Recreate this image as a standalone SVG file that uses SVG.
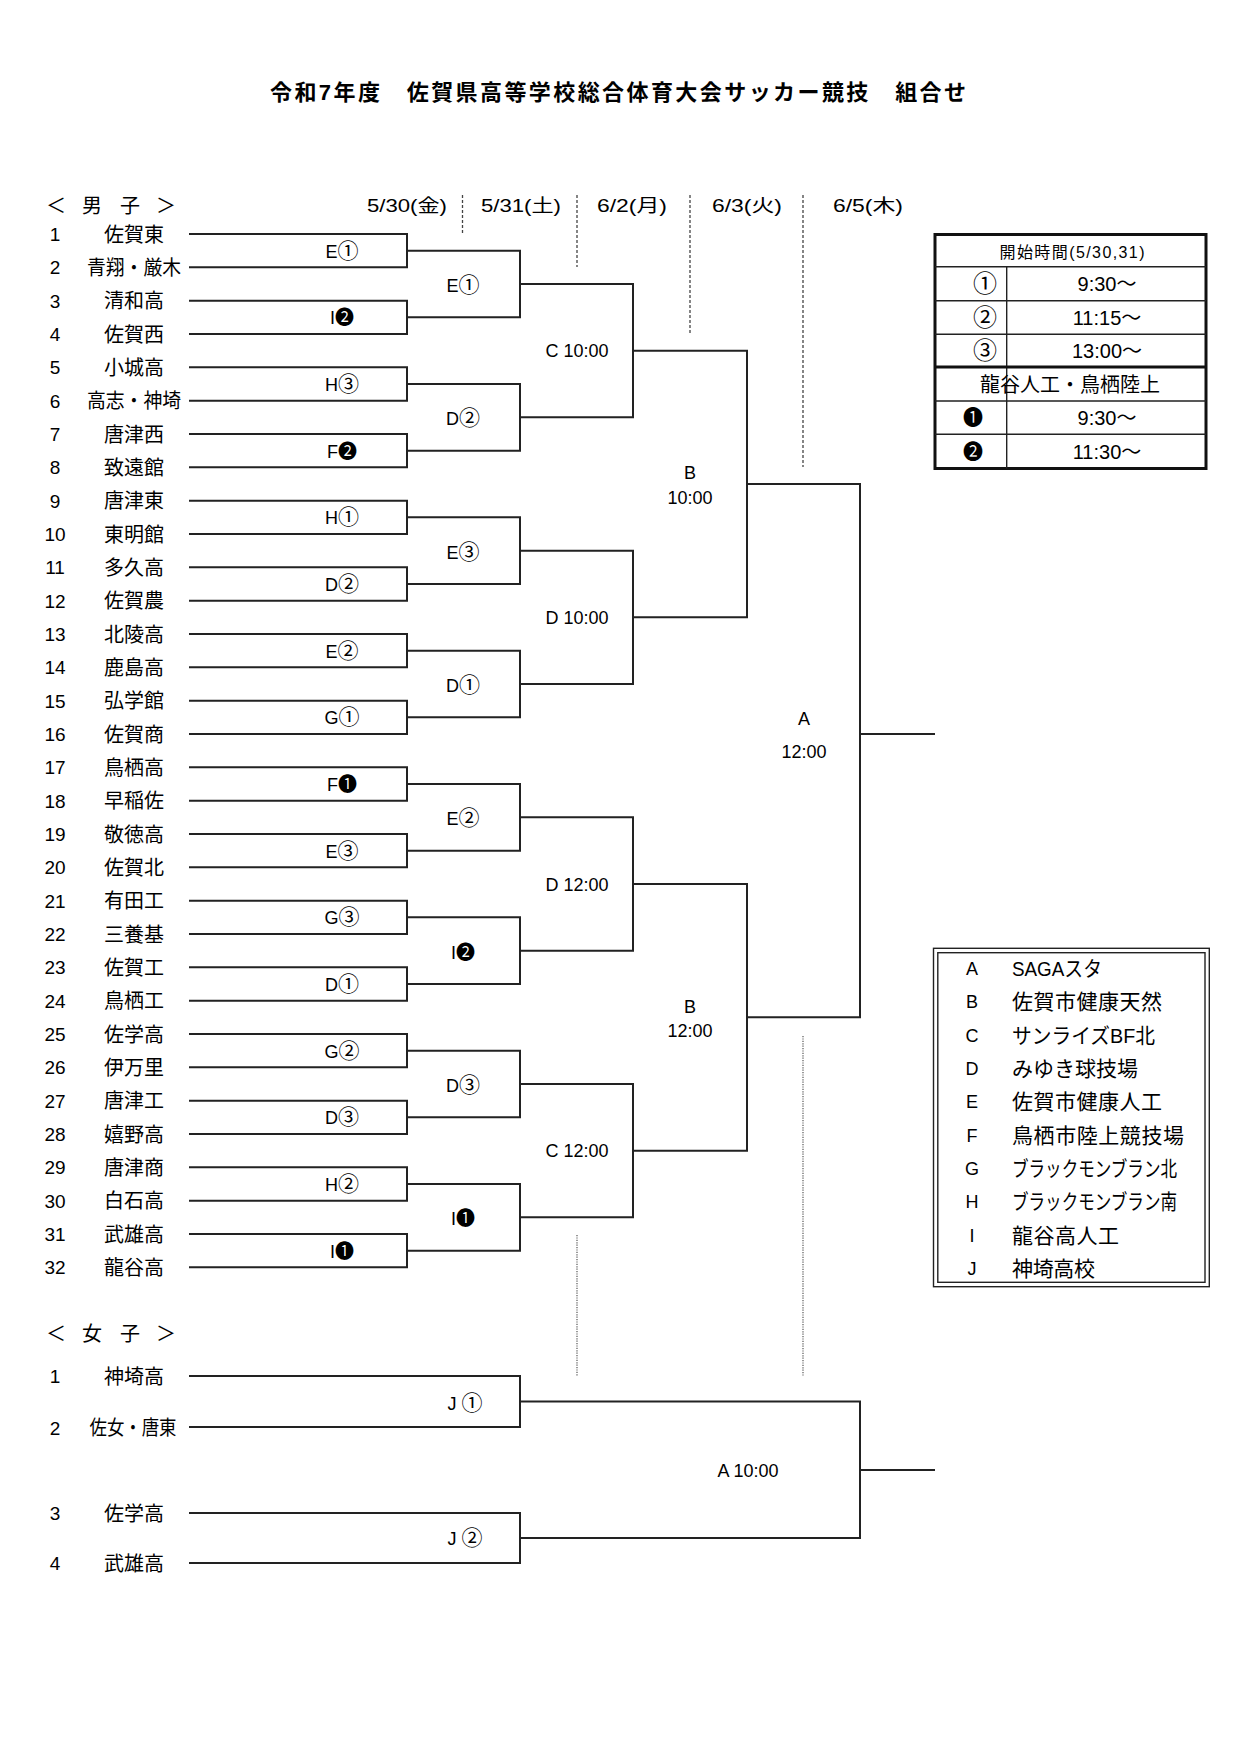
<svg xmlns="http://www.w3.org/2000/svg" width="1240" height="1754" viewBox="0 0 1240 1754">
<style>
text{font-family:"Liberation Sans","Noto Sans CJK JP",sans-serif;fill:#000}
.title{font-size:22px;font-weight:bold}
.hd{font-size:20px;text-anchor:middle}
.num{font-size:19px;text-anchor:middle}
.nm{font-size:20px;text-anchor:middle}
.lb{font-size:18px;text-anchor:middle}
.dt{font-size:18px;text-anchor:middle}
.tb{font-size:20px;text-anchor:middle}
.tbs{font-size:16px;text-anchor:middle}
.lgl{font-size:18px;text-anchor:middle}
.lgn{font-size:21px}
.c{font-size:21px}
.cb{font-size:19px}
.tc{font-size:24px}
.br{fill:none;stroke:#222;stroke-width:2}
.dash{fill:none;stroke:#444;stroke-width:1.3;stroke-dasharray:3 2}
.dot{fill:none;stroke:#555;stroke-width:1.2;stroke-dasharray:1.2 1.2}
.thick{fill:none;stroke:#111;stroke-width:3}
.thin{fill:none;stroke:#222;stroke-width:1.4}
</style>

<g id="title"><text class="title" x="270" y="100" textLength="696" lengthAdjust="spacing">令和7年度　佐賀県高等学校総合体育大会サッカー競技　組合せ</text></g>

<g id="dates">
<text class="hd" x="56 92 130 166" y="213">＜男子＞</text>
<text class="dt" x="407" y="212" textLength="80" lengthAdjust="spacingAndGlyphs">5/30(金)</text>
<text class="dt" x="521" y="212" textLength="80" lengthAdjust="spacingAndGlyphs">5/31(土)</text>
<text class="dt" x="632" y="212" textLength="70" lengthAdjust="spacingAndGlyphs">6/2(月)</text>
<text class="dt" x="747" y="212" textLength="70" lengthAdjust="spacingAndGlyphs">6/3(火)</text>
<text class="dt" x="868" y="212" textLength="70" lengthAdjust="spacingAndGlyphs">6/5(木)</text>
</g>

<g id="day-dividers">
<path class="dash" d="M462.5,195V234M577,195V267M690,195V334M803,195V467"/>
<path class="dot" d="M577,1235V1376M803,1036V1376"/>
</g>

<g id="connectors">
<path class="br" d="M189,234H407V267.3H189M189,300.7H407V334H189M189,367.3H407V400.7H189M189,434H407V467.3H189M189,500.7H407V534H189M189,567.3H407V600.7H189M189,634H407V667.3H189M189,700.7H407V734H189M189,767.3H407V800.7H189M189,834H407V867.3H189M189,900.7H407V934H189M189,967.3H407V1000.7H189M189,1034H407V1067.3H189M189,1100.7H407V1134H189M189,1167.3H407V1200.7H189M189,1234H407V1267.3H189"/>
<path class="br" d="M407,250.7H520V317.3H407M407,384H520V450.7H407M407,517.3H520V584H407M407,650.7H520V717.3H407M407,784H520V850.7H407M407,917.3H520V984H407M407,1050.7H520V1117.3H407M407,1184H520V1250.7H407"/>
<path class="br" d="M520,284H633V417.3H520M520,550.7H633V684H520M520,817.3H633V950.7H520M520,1084H633V1217.3H520"/>
<path class="br" d="M633,350.7H747V617.3H633M633,884H747V1150.7H633"/>
<path class="br" d="M747,484H860V1017.3H747M860,734H935"/>
<path class="br" d="M189,1376H520V1427H189M189,1513H520V1563H189M520,1401.5H860V1538H520M860,1470H935"/>
</g>

<g id="boys-teams">
<g id="t1"><text class="num" x="55" y="241">1</text><text class="nm" x="134" y="241.5">佐賀東</text></g>
<g id="t2"><text class="num" x="55" y="274.3">2</text><text class="nm" x="134" y="274.8" textLength="94" lengthAdjust="spacingAndGlyphs">青翔・厳木</text></g>
<g id="t3"><text class="num" x="55" y="307.7">3</text><text class="nm" x="134" y="308.2">清和高</text></g>
<g id="t4"><text class="num" x="55" y="341">4</text><text class="nm" x="134" y="341.5">佐賀西</text></g>
<g id="t5"><text class="num" x="55" y="374.3">5</text><text class="nm" x="134" y="374.8">小城高</text></g>
<g id="t6"><text class="num" x="55" y="407.7">6</text><text class="nm" x="134" y="408.2" textLength="94" lengthAdjust="spacingAndGlyphs">高志・神埼</text></g>
<g id="t7"><text class="num" x="55" y="441">7</text><text class="nm" x="134" y="441.5">唐津西</text></g>
<g id="t8"><text class="num" x="55" y="474.3">8</text><text class="nm" x="134" y="474.8">致遠館</text></g>
<g id="t9"><text class="num" x="55" y="507.7">9</text><text class="nm" x="134" y="508.2">唐津東</text></g>
<g id="t10"><text class="num" x="55" y="541">10</text><text class="nm" x="134" y="541.5">東明館</text></g>
<g id="t11"><text class="num" x="55" y="574.3">11</text><text class="nm" x="134" y="574.8">多久高</text></g>
<g id="t12"><text class="num" x="55" y="607.7">12</text><text class="nm" x="134" y="608.2">佐賀農</text></g>
<g id="t13"><text class="num" x="55" y="641">13</text><text class="nm" x="134" y="641.5">北陵高</text></g>
<g id="t14"><text class="num" x="55" y="674.3">14</text><text class="nm" x="134" y="674.8">鹿島高</text></g>
<g id="t15"><text class="num" x="55" y="707.7">15</text><text class="nm" x="134" y="708.2">弘学館</text></g>
<g id="t16"><text class="num" x="55" y="741">16</text><text class="nm" x="134" y="741.5">佐賀商</text></g>
<g id="t17"><text class="num" x="55" y="774.3">17</text><text class="nm" x="134" y="774.8">鳥栖高</text></g>
<g id="t18"><text class="num" x="55" y="807.7">18</text><text class="nm" x="134" y="808.2">早稲佐</text></g>
<g id="t19"><text class="num" x="55" y="841">19</text><text class="nm" x="134" y="841.5">敬徳高</text></g>
<g id="t20"><text class="num" x="55" y="874.3">20</text><text class="nm" x="134" y="874.8">佐賀北</text></g>
<g id="t21"><text class="num" x="55" y="907.7">21</text><text class="nm" x="134" y="908.2">有田工</text></g>
<g id="t22"><text class="num" x="55" y="941">22</text><text class="nm" x="134" y="941.5">三養基</text></g>
<g id="t23"><text class="num" x="55" y="974.3">23</text><text class="nm" x="134" y="974.8">佐賀工</text></g>
<g id="t24"><text class="num" x="55" y="1007.7">24</text><text class="nm" x="134" y="1008.2">鳥栖工</text></g>
<g id="t25"><text class="num" x="55" y="1041">25</text><text class="nm" x="134" y="1041.5">佐学高</text></g>
<g id="t26"><text class="num" x="55" y="1074.3">26</text><text class="nm" x="134" y="1074.8">伊万里</text></g>
<g id="t27"><text class="num" x="55" y="1107.7">27</text><text class="nm" x="134" y="1108.2">唐津工</text></g>
<g id="t28"><text class="num" x="55" y="1141">28</text><text class="nm" x="134" y="1141.5">嬉野高</text></g>
<g id="t29"><text class="num" x="55" y="1174.3">29</text><text class="nm" x="134" y="1174.8">唐津商</text></g>
<g id="t30"><text class="num" x="55" y="1207.7">30</text><text class="nm" x="134" y="1208.2">白石高</text></g>
<g id="t31"><text class="num" x="55" y="1241">31</text><text class="nm" x="134" y="1241.5">武雄高</text></g>
<g id="t32"><text class="num" x="55" y="1274.3">32</text><text class="nm" x="134" y="1274.8">龍谷高</text></g>
</g>

<g id="boys-matches">
<text class="lb" x="342" y="257.7">E<tspan class="c">①</tspan></text>
<text class="lb" x="342" y="324.3">I<tspan class="cb">❷</tspan></text>
<text class="lb" x="342" y="391">H<tspan class="c">③</tspan></text>
<text class="lb" x="342" y="457.7">F<tspan class="cb">❷</tspan></text>
<text class="lb" x="342" y="524.3">H<tspan class="c">①</tspan></text>
<text class="lb" x="342" y="591">D<tspan class="c">②</tspan></text>
<text class="lb" x="342" y="657.7">E<tspan class="c">②</tspan></text>
<text class="lb" x="342" y="724.3">G<tspan class="c">①</tspan></text>
<text class="lb" x="342" y="791">F<tspan class="cb">❶</tspan></text>
<text class="lb" x="342" y="857.7">E<tspan class="c">③</tspan></text>
<text class="lb" x="342" y="924.3">G<tspan class="c">③</tspan></text>
<text class="lb" x="342" y="991">D<tspan class="c">①</tspan></text>
<text class="lb" x="342" y="1057.7">G<tspan class="c">②</tspan></text>
<text class="lb" x="342" y="1124.3">D<tspan class="c">③</tspan></text>
<text class="lb" x="342" y="1191">H<tspan class="c">②</tspan></text>
<text class="lb" x="342" y="1257.7">I<tspan class="cb">❶</tspan></text>
<text class="lb" x="463" y="292">E<tspan class="c">①</tspan></text>
<text class="lb" x="463" y="425.3">D<tspan class="c">②</tspan></text>
<text class="lb" x="463" y="558.7">E<tspan class="c">③</tspan></text>
<text class="lb" x="463" y="692">D<tspan class="c">①</tspan></text>
<text class="lb" x="463" y="825.3">E<tspan class="c">②</tspan></text>
<text class="lb" x="463" y="958.7">I<tspan class="cb">❷</tspan></text>
<text class="lb" x="463" y="1092">D<tspan class="c">③</tspan></text>
<text class="lb" x="463" y="1225.3">I<tspan class="cb">❶</tspan></text>
<text class="lb" x="577" y="357.2">C 10:00</text>
<text class="lb" x="577" y="623.8">D 10:00</text>
<text class="lb" x="577" y="890.5">D 12:00</text>
<text class="lb" x="577" y="1157.2">C 12:00</text>
<text class="lb" x="690" y="479">B</text>
<text class="lb" x="690" y="503.5">10:00</text>
<text class="lb" x="690" y="1012.5">B</text>
<text class="lb" x="690" y="1037">12:00</text>
<text class="lb" x="804" y="725.3">A</text>
<text class="lb" x="804" y="758">12:00</text>
</g>

<g id="girls">
<text class="hd" x="56 92 130 166" y="1340.5">＜女子＞</text>
<g id="g1"><text class="num" x="55" y="1383">1</text><text class="nm" x="134" y="1383.5">神埼高</text></g>
<g id="g2"><text class="num" x="55" y="1435">2</text><text class="nm" x="133" y="1434.5" textLength="87" lengthAdjust="spacingAndGlyphs">佐女・唐東</text></g>
<g id="g3"><text class="num" x="55" y="1520">3</text><text class="nm" x="134" y="1520.5">佐学高</text></g>
<g id="g4"><text class="num" x="55" y="1570">4</text><text class="nm" x="134" y="1570.5">武雄高</text></g>
<text class="lb" x="465" y="1410">J <tspan class="c">①</tspan></text>
<text class="lb" x="465" y="1544.5">J <tspan class="c">②</tspan></text>
<text class="lb" x="748" y="1477">A 10:00</text>
</g>

<g id="start-times">
<rect class="thick" x="935" y="234.5" width="271" height="234"/>
<path class="thin" d="M935,266.7H1206M935,300.7H1206M935,334.3H1206M935,401H1206M935,434.3H1206M1006.7,266.7V367M1006.7,367V468.5"/>
<path class="thick" d="M935,367H1206"/>
<text class="tbs" x="1072" y="257.5" textLength="145" lengthAdjust="spacing">開始時間(5/30,31)</text>
<text class="tc" x="973" y="292">①</text><text class="tb" x="1107" y="290.7">9:30～</text>
<text class="tc" x="973" y="325.8">②</text><text class="tb" x="1107" y="324.5">11:15～</text>
<text class="tc" x="973" y="358.8">③</text><text class="tb" x="1107" y="357.5">13:00～</text>
<text class="tb" x="1070" y="391.5">龍谷人工・鳥栖陸上</text>
<text class="tb" x="973" y="424.5">❶</text><text class="tb" x="1107" y="424.7">9:30～</text>
<text class="tb" x="973" y="458.5">❷</text><text class="tb" x="1107" y="458.7">11:30～</text>
</g>

<g id="venues">
<rect class="thin" x="933.5" y="948.3" width="275.8" height="338.4"/>
<rect class="thin" x="937.8" y="952.7" width="267.2" height="329.6"/>
<text class="lgl" x="972" y="974.8">A</text><text class="lgn" x="1012" y="975.8" textLength="90" lengthAdjust="spacingAndGlyphs">SAGAスタ</text>
<text class="lgl" x="972" y="1008.2">B</text><text class="lgn" x="1012" y="1009.2" textLength="150" lengthAdjust="spacing">佐賀市健康天然</text>
<text class="lgl" x="972" y="1041.5">C</text><text class="lgn" x="1012" y="1042.5" textLength="143" lengthAdjust="spacingAndGlyphs">サンライズBF北</text>
<text class="lgl" x="972" y="1074.8">D</text><text class="lgn" x="1012" y="1075.8" textLength="126" lengthAdjust="spacing">みゆき球技場</text>
<text class="lgl" x="972" y="1108.2">E</text><text class="lgn" x="1012" y="1109.2" textLength="150" lengthAdjust="spacing">佐賀市健康人工</text>
<text class="lgl" x="972" y="1141.5">F</text><text class="lgn" x="1012" y="1142.5" textLength="172" lengthAdjust="spacing">鳥栖市陸上競技場</text>
<text class="lgl" x="972" y="1174.8">G</text><text class="lgn" x="1012" y="1175.8" textLength="165" lengthAdjust="spacingAndGlyphs">ブラックモンブラン北</text>
<text class="lgl" x="972" y="1208.2">H</text><text class="lgn" x="1012" y="1209.2" textLength="165" lengthAdjust="spacingAndGlyphs">ブラックモンブラン南</text>
<text class="lgl" x="972" y="1241.5">I</text><text class="lgn" x="1012" y="1242.5" textLength="107" lengthAdjust="spacing">龍谷高人工</text>
<text class="lgl" x="972" y="1274.8">J</text><text class="lgn" x="1012" y="1275.8" textLength="83" lengthAdjust="spacing">神埼高校</text>
</g>
</svg>
